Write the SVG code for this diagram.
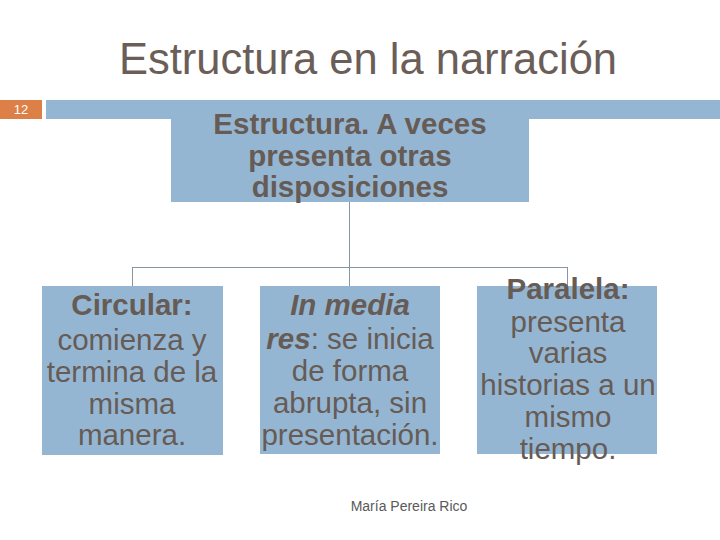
<svg xmlns="http://www.w3.org/2000/svg" width="720" height="540" viewBox="0 0 720 540">
<style>
.box{fill:#94B6D2}
.t{font-family:"Liberation Sans",Arial,sans-serif;fill:#675B55;text-anchor:middle}
.n{font-size:29.5px}
.b{font-size:29.5px;font-weight:bold}
.conn{stroke:#8896A4;stroke-width:1;fill:none}
</style>
<rect width="720" height="540" fill="#FFFFFF"/>
<text x="368" y="74" class="t" style="font-size:43.5px;fill:#6B5E58">Estructura en la narración</text>
<g id="header-bar">
<rect x="0" y="100" width="42" height="19" fill="#DD8047"/>
<text x="21" y="114" style="font-family:'Liberation Sans',Arial,sans-serif;font-size:13px;fill:#FFFFFF;text-anchor:middle">12</text>
<rect x="46" y="100" width="674" height="19" class="box"/>
</g>
<g id="connectors">
<line class="conn" x1="349.5" y1="202" x2="349.5" y2="286"/>
<line class="conn" x1="132.5" y1="267.5" x2="567.5" y2="267.5"/>
<line class="conn" x1="132.5" y1="267" x2="132.5" y2="286"/>
<line class="conn" x1="567.5" y1="267" x2="567.5" y2="286"/>
</g>
<g id="node-root">
<rect x="171" y="110" width="358" height="92" class="box"/>
<text class="t b" x="350" y="134">Estructura. A veces</text>
<text class="t b" x="350" y="166">presenta otras</text>
<text class="t b" x="350" y="197">disposiciones</text>
</g>
<g id="node-circular">
<rect x="42" y="286" width="181" height="169" class="box"/>
<text class="t b" x="132" y="315">Circular:</text>
<text class="t n" x="132" y="350">comienza y</text>
<text class="t n" x="132" y="382">termina de la</text>
<text class="t n" x="132" y="414">misma</text>
<text class="t n" x="132" y="445">manera.</text>
</g>
<g id="node-media">
<rect x="260" y="286" width="180" height="168" class="box"/>
<text class="t b" x="350" y="315" font-style="italic">In media</text>
<text class="t n" x="350" y="349"><tspan font-weight="bold" font-style="italic">res</tspan>: se inicia</text>
<text class="t n" x="350" y="381">de forma</text>
<text class="t n" x="350" y="413">abrupta, sin</text>
<text class="t n" x="350" y="445">presentación.</text>
</g>
<g id="node-paralela">
<rect x="477" y="286" width="180" height="168" class="box"/>
<text class="t b" x="568" y="299">Paralela:</text>
<text class="t n" x="568" y="332">presenta</text>
<text class="t n" x="568" y="363">varias</text>
<text class="t n" x="568" y="395">historias a un</text>
<text class="t n" x="568" y="427">mismo</text>
<text class="t n" x="568" y="459">tiempo.</text>
</g>
<text x="409" y="511" style="font-family:'Liberation Sans',Arial,sans-serif;font-size:14px;fill:#595959;text-anchor:middle">María Pereira Rico</text>
</svg>
